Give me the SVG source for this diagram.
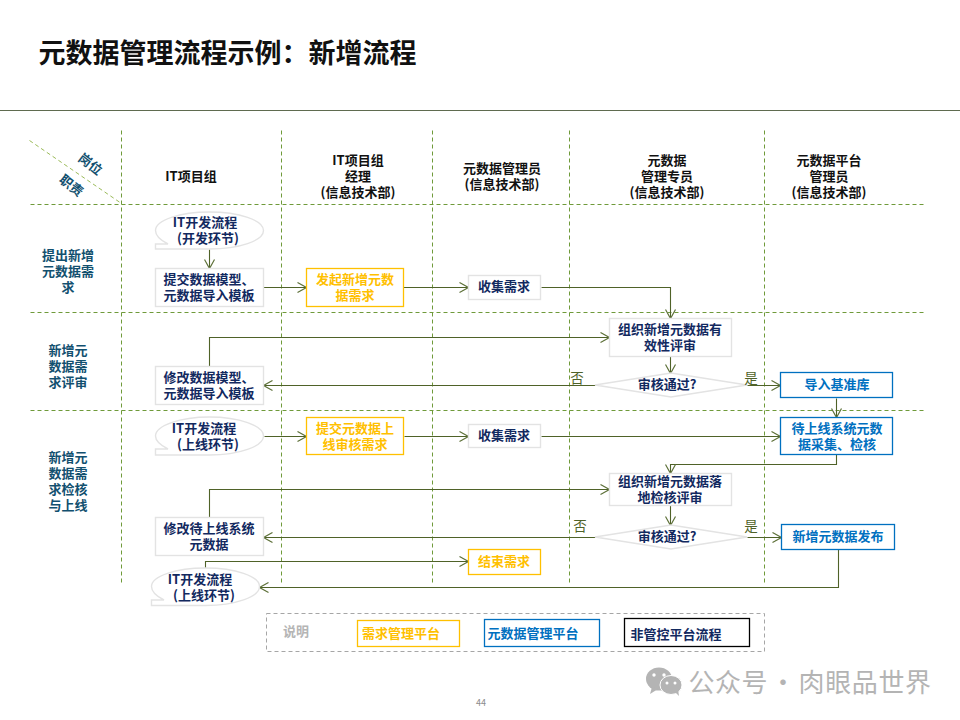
<svg xmlns="http://www.w3.org/2000/svg" width="960" height="720" viewBox="0 0 960 720">
  <style>
    text { font-family: "Noto Sans CJK SC", "Liberation Sans", sans-serif; text-anchor: middle; dominant-baseline: central; }
    .t { font-size: 13px; font-weight: 700; fill: #12295f; }
    .head { font-size: 13px; font-weight: 700; fill: #111; }
    .side { font-size: 13px; font-weight: 700; fill: #12506f; }
    .yes { font-size: 13.5px; fill: #4f6228; }
    .yt { font-size: 13px; font-weight: 700; fill: #ffc000; }
    .bt { font-size: 13px; font-weight: 700; fill: #0070c0; }
    .plain { fill: #fff; stroke: #e3e3e3; stroke-width: 1.4; }
    .yb { fill: #fff; stroke: #ffc000; stroke-width: 1.3; }
    .bb { fill: #fff; stroke: #0070c0; stroke-width: 1.3; }
    .grid { stroke: #6f9a3a; stroke-width: 1; stroke-dasharray: 4 3; fill: none; }
    .flow { stroke: #4f6228; stroke-width: 1.1; fill: none; marker-end: url(#open); }
  </style>
  <defs>
    <marker id="open" markerUnits="userSpaceOnUse" markerWidth="12" markerHeight="12" refX="10" refY="6" orient="auto">
      <path d="M1 1 L10 6 L1 11" fill="none" stroke="#5d7038" stroke-width="1.2"/>
    </marker>
  </defs>
  <rect width="960" height="720" fill="#fff"/>

  <text x="227.500" y="51" style="font-size:27px;font-weight:700;fill:#111">元数据管理流程示例：新增流程</text>
  <line x1="0" y1="110.500" x2="960" y2="110.500" stroke="#5f6b4f" stroke-width="1"/>

  <g id="grid" transform="translate(0.500 0.500)">
    <path class="grid" d="M121 130V582M281 130V582M432 130V582M569 130V582M764 130V582"/>
    <path class="grid" d="M30 204H923M30 312H923M30 410H923"/>
    <path d="M29 140L121 203" stroke="#9bbb59" stroke-width="1" stroke-dasharray="4 3" fill="none"/>
  </g>

  <g id="headers">
    <text class="side" transform="translate(91 163.500) rotate(38)">岗位</text>
    <text class="side" transform="translate(72 185) rotate(38)">职责</text>
    <text class="head" x="191" y="175">IT项目组</text>
    <text class="head"><tspan x="358" y="158.500">IT项目组</tspan><tspan x="358" y="174.500">经理</tspan><tspan x="358" y="190.500">(信息技术部)</tspan></text>
    <text class="head"><tspan x="502" y="166.500">元数据管理员</tspan><tspan x="502" y="182.500">(信息技术部)</tspan></text>
    <text class="head"><tspan x="667" y="158.500">元数据</tspan><tspan x="667" y="174.500">管理专员</tspan><tspan x="667" y="190.500">(信息技术部)</tspan></text>
    <text class="head"><tspan x="829" y="158.500">元数据平台</tspan><tspan x="829" y="174.500">管理员</tspan><tspan x="829" y="190.500">(信息技术部)</tspan></text>
  </g>

  <g id="stages">
    <text class="side"><tspan x="68" y="253.500">提出新增</tspan><tspan x="68" y="269.500">元数据需</tspan><tspan x="68" y="285.500">求</tspan></text>
    <text class="side"><tspan x="68" y="348.500">新增元</tspan><tspan x="68" y="364.500">数据需</tspan><tspan x="68" y="380.500">求评审</tspan></text>
    <text class="side"><tspan x="68" y="455.500">新增元</tspan><tspan x="68" y="471.500">数据需</tspan><tspan x="68" y="487.500">求检核</tspan><tspan x="68" y="503.500">与上线</tspan></text>
  </g>

  <g id="connectors" transform="translate(0.500 0.500)">
    <path class="flow" d="M209 249V268"/>
    <path class="flow" d="M263 287H306"/>
    <path class="flow" d="M403 287H468"/>
    <path class="flow" d="M541 287H670V318"/>
    <path class="flow" d="M209 366V337H609"/>
    <path class="flow" d="M670 356V373"/>
    <path class="flow" d="M595 385H263"/>
    <path class="flow" d="M747 385H780"/>
    <path class="flow" d="M836 398V417"/>
    <path class="flow" d="M264 436H306"/>
    <path class="flow" d="M404 436H468"/>
    <path class="flow" d="M541 436H780"/>
    <path class="flow" d="M836 454V464H670V473"/>
    <path class="flow" d="M209 517V489H609"/>
    <path class="flow" d="M670 505V525"/>
    <path class="flow" d="M595 537H263"/>
    <path class="flow" d="M747 537H781"/>
    <path class="flow" d="M205 568V561H468"/>
    <path class="flow" d="M838 549V587H259"/>
  </g>

  <g id="n-dev-start">
    <path class="plain" d="M155.500 244V249H209.500C239 249 263.500 240.700 263.500 230.500C263.500 220.300 239 212 209.500 212C180 212 155.500 220.300 155.500 230.500C155.500 235.500 160 240 168 244Z"/>
    <text class="t"><tspan x="205" y="220.500">IT开发流程</tspan><tspan x="208" y="236.500">(开发环节)</tspan></text>
  </g>
  <g id="n-submit-model">
    <rect class="plain" x="155.500" y="268.500" width="108" height="38"/>
    <text class="t"><tspan x="209" y="277.500">提交数据模型、</tspan><tspan x="209" y="293.500">元数据导入模板</tspan></text>
  </g>
  <g id="n-raise">
    <rect class="yb" x="306.500" y="268.500" width="97" height="38"/>
    <text class="yt"><tspan x="355" y="277.500">发起新增元数</tspan><tspan x="355" y="293.500">据需求</tspan></text>
  </g>
  <g id="n-collect-1">
    <rect class="plain" x="468.500" y="275.500" width="72" height="24"/>
    <text class="t" x="504" y="285.500">收集需求</text>
  </g>
  <g id="n-review-1">
    <rect class="plain" x="609.500" y="318.500" width="122" height="38"/>
    <text class="t"><tspan x="670" y="327.500">组织新增元数据有</tspan><tspan x="670" y="343.500">效性评审</tspan></text>
  </g>
  <g id="n-decision-1">
    <polygon class="plain" points="595,385 671,373 747,385 671,397"/>
    <text class="t" x="667" y="383.500">审核通过?</text>
  </g>
  <g id="n-fix-model">
    <rect class="plain" x="155.500" y="366.500" width="108" height="38"/>
    <text class="t"><tspan x="209" y="375.500">修改数据模型、</tspan><tspan x="209" y="391.500">元数据导入模板</tspan></text>
  </g>
  <g id="n-import">
    <rect class="bb" x="780.500" y="372.500" width="112" height="25"/>
    <text class="bt" x="837" y="383.500">导入基准库</text>
  </g>
  <g id="n-dev-online">
    <path class="plain" d="M155.500 449V455H209.500C239 455 263.500 446.500 263.500 436C263.500 425.500 239 417 209.500 417C180 417 155.500 425.500 155.500 436C155.500 441 160 445 168 449Z"/>
    <text class="t"><tspan x="204" y="426.500">IT开发流程</tspan><tspan x="208" y="442.500">(上线环节)</tspan></text>
  </g>
  <g id="n-submit-review">
    <rect class="yb" x="306.500" y="417.500" width="97" height="37"/>
    <text class="yt"><tspan x="355" y="426.500">提交元数据上</tspan><tspan x="355" y="442.500">线审核需求</tspan></text>
  </g>
  <g id="n-collect-2">
    <rect class="plain" x="468.500" y="424.500" width="72" height="23"/>
    <text class="t" x="504" y="434.500">收集需求</text>
  </g>
  <g id="n-gather">
    <rect class="bb" x="780.500" y="417.500" width="112" height="37"/>
    <text class="bt"><tspan x="837" y="426.500">待上线系统元数</tspan><tspan x="837" y="442.500">据采集、检核</tspan></text>
  </g>
  <g id="n-review-2">
    <rect class="plain" x="609.500" y="473.500" width="122" height="32"/>
    <text class="t"><tspan x="670" y="479.500">组织新增元数据落</tspan><tspan x="670" y="495.500">地检核评审</tspan></text>
  </g>
  <g id="n-decision-2">
    <polygon class="plain" points="595,537 671,525 747,537 671,549"/>
    <text class="t" x="667" y="535.500">审核通过?</text>
  </g>
  <g id="n-fix-system">
    <rect class="plain" x="155.500" y="517.500" width="108" height="38"/>
    <text class="t"><tspan x="209" y="526.500">修改待上线系统</tspan><tspan x="209" y="542.500">元数据</tspan></text>
  </g>
  <g id="n-publish">
    <rect class="bb" x="781.500" y="524.500" width="113" height="25"/>
    <text class="bt" x="838" y="535.500">新增元数据发布</text>
  </g>
  <g id="n-close">
    <rect class="yb" x="468.500" y="549.500" width="72" height="25"/>
    <text class="yt" x="504" y="560.500">结束需求</text>
  </g>
  <g id="n-dev-final">
    <path class="plain" d="M151.500 600V605.500H205.500C235 605.500 259.500 597 259.500 586.500C259.500 576 235 568 205.500 568C176 568 151.500 576 151.500 586.500C151.500 592 156 596 164 600Z"/>
    <text class="t"><tspan x="200" y="577.500">IT开发流程</tspan><tspan x="204" y="593.500">(上线环节)</tspan></text>
  </g>

  <g id="branch-labels">
    <text class="yes" x="577" y="376.500">否</text>
    <text class="yes" x="751" y="376.500">是</text>
    <text class="yes" x="580" y="524.500">否</text>
    <text class="yes" x="751" y="524.500">是</text>
  </g>

  <g id="legend">
    <rect x="266.500" y="613.500" width="498" height="38" fill="none" stroke="#a6a6a6" stroke-width="1" stroke-dasharray="4 3"/>
    <text x="296" y="630" style="font-size:13px;font-weight:700;fill:#b5b5b5">说明</text>
    <rect class="yb" x="357.500" y="620.500" width="102" height="26"/>
    <text class="yt" x="401" y="632.500">需求管理平台</text>
    <rect class="bb" x="484.500" y="619.500" width="115" height="27"/>
    <text class="bt" x="533" y="632.500">元数据管理平台</text>
    <rect x="624.500" y="618.500" width="125" height="28" fill="#fff" stroke="#000" stroke-width="1.300"/>
    <text class="t" x="676" y="633.500">非管控平台流程</text>
  </g>

  <g id="footer">
    <text x="481" y="702" style="font-size:9px;fill:#8c8c8c">44</text>
    <g fill="#b4b4b4">
      <ellipse cx="659" cy="679" rx="13" ry="11.500"/>
      <path d="M652 687L650 694L658 689Z"/>
      <ellipse cx="671" cy="685" rx="11" ry="9.500" stroke="#fff" stroke-width="1"/>
      <path d="M675 692L679 696L678 689Z"/>
    </g>
    <g fill="#fff">
      <circle cx="654" cy="675" r="1.700"/><circle cx="664" cy="675" r="1.700"/>
      <circle cx="667" cy="683" r="1.500"/><circle cx="675" cy="683" r="1.500"/>
    </g>
    <text x="810" y="680" style="font-size:26px;fill:#b4b4b4;letter-spacing:0.600px;word-spacing:-4.500px">公众号 · 肉眼品世界</text>
  </g>
</svg>
